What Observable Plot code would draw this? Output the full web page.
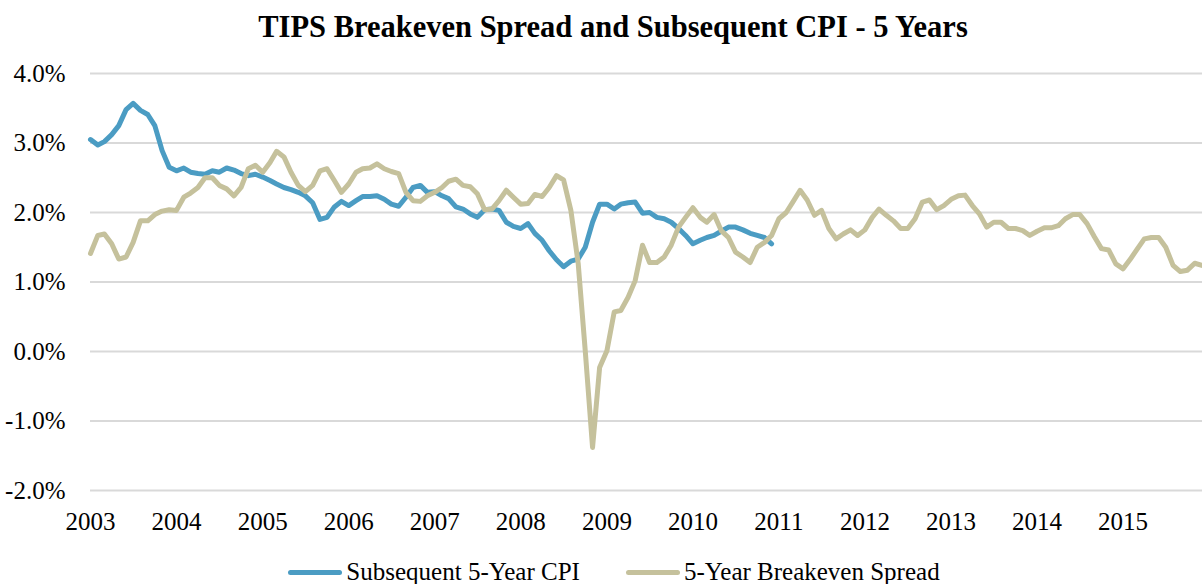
<!DOCTYPE html>
<html><head><meta charset="utf-8">
<script src="https://cdn.jsdelivr.net/npm/d3@7"></script>
<script src="https://cdn.jsdelivr.net/npm/@observablehq/plot@0.6"></script>
<style>
body{margin:0;background:#fff;font-family:"Liberation Serif",serif;color:#000;width:1202px;overflow:hidden}
#title{height:50px;line-height:54px;text-align:center;font-weight:bold;font-size:30.5px;padding-left:24px;box-sizing:border-box;width:1202px}
#legend{height:54px;display:flex;align-items:center;justify-content:center;padding-left:26px;box-sizing:border-box;width:1202px;font-size:25px}
.item{display:flex;align-items:center;margin:0 23px}
.sw{width:54px;height:5px;border-radius:3px;margin-right:4px}
</style></head><body>
<div id="title">TIPS Breakeven Spread and Subsequent CPI - 5 Years</div>
<div id="chart"></div>
<div id="legend"></div>
<script>
const startYear = 2003;
const seriesNames = ["Subsequent 5-Year CPI", "5-Year Breakeven Spread"];
const seriesColors = ["#4B9CC3", "#C5C19C"];
// monthly values from Jan 2003
const cpi = [
 3.05,2.97,3.02,3.12,3.25,3.48,3.57,3.47,3.41,3.25,2.89,2.65,
 2.60,2.64,2.58,2.56,2.55,2.60,2.58,2.64,2.61,2.56,2.53,2.55,
 2.51,2.46,2.41,2.36,2.33,2.29,2.24,2.14,1.90,1.93,2.08,2.16,
 2.10,2.17,2.23,2.23,2.24,2.19,2.12,2.09,2.22,2.36,2.39,2.29,
 2.30,2.24,2.20,2.08,2.05,1.98,1.93,2.04,2.05,2.03,1.86,1.80,
 1.77,1.84,1.70,1.60,1.45,1.32,1.22,1.30,1.33,1.50,1.86,2.12,
 2.12,2.05,2.12,2.14,2.15,1.99,2.00,1.93,1.91,1.86,1.77,1.67,
 1.55,1.60,1.64,1.67,1.73,1.79,1.79,1.75,1.70,1.67,1.64,1.55
];
const breakeven = [
 1.41,1.67,1.69,1.55,1.33,1.36,1.57,1.88,1.88,1.97,2.02,2.04,
 2.03,2.22,2.28,2.36,2.50,2.50,2.39,2.34,2.24,2.36,2.63,2.68,
 2.58,2.72,2.88,2.80,2.58,2.39,2.30,2.39,2.60,2.63,2.46,2.29,
 2.41,2.58,2.63,2.64,2.70,2.63,2.59,2.56,2.29,2.17,2.16,2.24,
 2.29,2.36,2.45,2.48,2.39,2.37,2.27,2.04,2.05,2.17,2.32,2.22,
 2.12,2.13,2.26,2.23,2.36,2.53,2.47,2.03,1.27,0.01,-1.38,-0.23,
 0.01,0.57,0.59,0.78,1.02,1.53,1.28,1.28,1.36,1.53,1.79,1.93,
 2.07,1.93,1.86,1.97,1.74,1.64,1.43,1.36,1.28,1.50,1.57,1.67,
 1.91,2.00,2.15,2.32,2.18,1.96,2.03,1.77,1.62,1.69,1.75,1.67,
 1.75,1.93,2.05,1.96,1.88,1.77,1.77,1.91,2.15,2.18,2.04,2.10,
 2.19,2.24,2.25,2.10,1.98,1.79,1.86,1.86,1.77,1.77,1.74,1.67,
 1.73,1.78,1.78,1.81,1.91,1.97,1.97,1.84,1.65,1.48,1.46,1.26,
 1.19,1.33,1.47,1.62,1.64,1.64,1.50,1.24,1.15,1.17,1.27,1.24
];
const yTicks = [-2, -1, 0, 1, 2, 3, 4];
const xTickYears = [2003,2004,2005,2006,2007,2008,2009,2010,2011,2012,2013,2014,2015];

const monthDate = i => new Date(Date.UTC(startYear, i, 1));
const rows = [
  ...cpi.map((v, i) => ({date: monthDate(i), value: v, series: seriesNames[0]})),
  ...breakeven.map((v, i) => ({date: monthDate(i), value: v, series: seriesNames[1]}))
];

const chart = Plot.plot({
  width: 1202, height: 495,
  marginLeft: 90, marginRight: 0, marginTop: 23, marginBottom: 55,
  style: {fontFamily: "'Liberation Serif', serif", fontSize: "25px", color: "#000", background: "#fff", overflow: "visible"},
  x: {type: "utc", domain: [new Date(Date.UTC(2003,0,1)), new Date(Date.UTC(2015,11,4))],
      ticks: xTickYears.map(y => new Date(Date.UTC(y,0,1))),
      tickFormat: d => String(d.getUTCFullYear()), tickSize: 0, tickPadding: 22, label: null},
  y: {domain: [-2, 4], ticks: yTicks, tickFormat: d => d.toFixed(1) + "%", tickSize: 0, tickPadding: 25, label: null},
  color: {domain: seriesNames, range: seriesColors},
  marks: [
    Plot.gridY(yTicks, {stroke: "#d9d9d9", strokeOpacity: 1, strokeWidth: 2}),
    Plot.line(rows, {x: "date", y: "value", z: "series", stroke: "series", strokeWidth: 5,
      strokeLinejoin: "round", strokeLinecap: "round"})
  ]
});
document.getElementById("chart").appendChild(chart);

const legend = document.getElementById("legend");
seriesNames.forEach((n, i) => {
  const it = document.createElement("div"); it.className = "item";
  const sw = document.createElement("div"); sw.className = "sw"; sw.style.background = seriesColors[i];
  const tx = document.createElement("span"); tx.textContent = n;
  it.appendChild(sw); it.appendChild(tx); legend.appendChild(it);
});
</script>
</body></html>
